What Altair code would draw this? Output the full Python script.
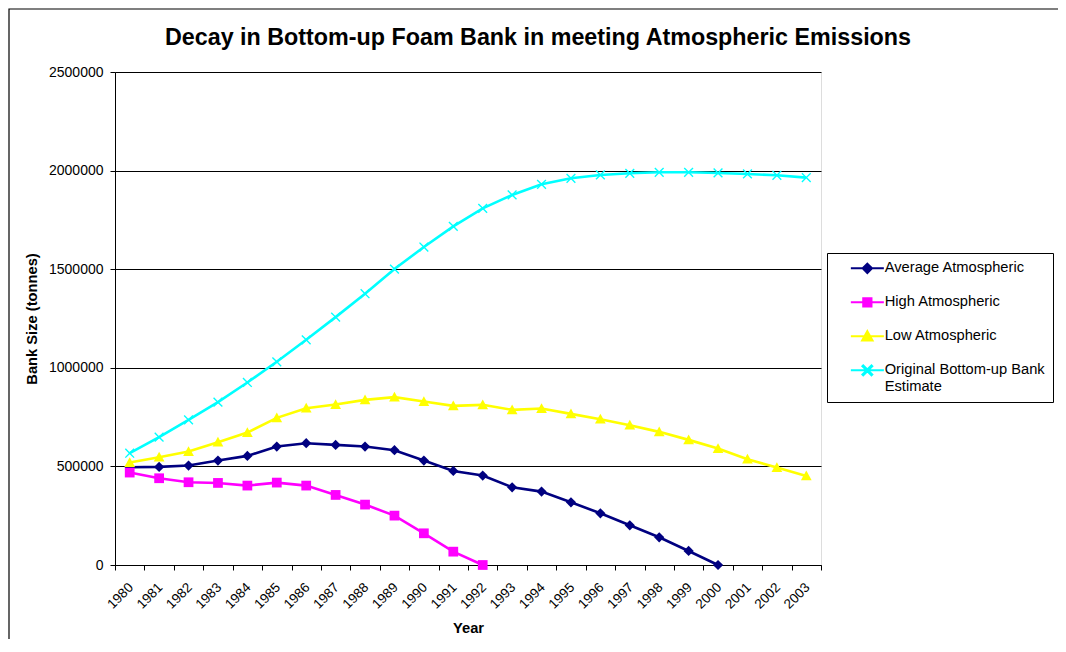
import altair as alt
import pandas as pd

years = list(range(1980, 2004))
average = [495800, 497400, 504200, 529600, 553300, 600700, 617600, 609100, 600700, 582000,
           529600, 477100, 453500, 394200, 372200, 318100, 262300, 201300, 140400, 71100,
           0, None, None, None]
high = [468700, 439900, 419600, 416200, 402700, 417900, 402700, 355300, 306300, 250400,
        160700, 67700, 0, None, None, None, None, None, None, None, None, None, None, None]
low = [519400, 546500, 575300, 622700, 671700, 746200, 795200, 813900, 837500, 851100,
       829100, 807100, 812200, 786800, 793500, 766500, 739400, 709000, 675100, 634500,
       590500, 536400, 494100, 451800]
original = [566800, 648000, 736000, 825700, 925500, 1030400, 1142100, 1257000, 1375600, 1500800,
            1612500, 1717400, 1808700, 1876400, 1930600, 1961000, 1978000, 1986400, 1991500, 1991500,
            1988100, 1983000, 1976300, 1964400]

series_names = ["Average Atmospheric", "High Atmospheric", "Low Atmospheric",
                "Original Bottom-up Bank Estimate"]
series_values = [average, high, low, original]
series_colors = ["#000080", "#FF00FF", "#FFFF00", "#00FFFF"]
y_ticks = [0, 500000, 1000000, 1500000, 2000000, 2500000]

# marker shapes for the plot
diamond = "M0,-1.05L1.05,0L0,1.05L-1.05,0Z"
square = "M-1,-1H1V1H-1Z"
triangle = "M0,-1.1L1.1,0.9H-1.1Z"
xmark = "M-1,-0.8L-0.8,-1L0,-0.2L0.8,-1L1,-0.8L0.2,0L1,0.8L0.8,1L0,0.2L-0.8,1L-1,0.8L-0.2,0Z"
plot_shapes = [diamond, square, triangle, xmark]

# legend symbols: line + marker
leg_line = "M-3,0H3"
leg_shapes = [
    leg_line + "M0,-0.85L0.85,0L0,0.85L-0.85,0Z",
    leg_line + "M-0.75,-0.75H0.75V0.75H-0.75Z",
    leg_line + "M0,-0.95L0.95,0.75H-0.95Z",
    leg_line + "M-0.9,-0.75L-0.75,-0.9L0,-0.15L0.75,-0.9L0.9,-0.75L0.15,0L0.9,0.75L0.75,0.9L0,0.15L-0.75,0.9L-0.9,0.75L-0.15,0Z",
]

rows = []
for name, vals in zip(series_names, series_values):
    for yr, v in zip(years, vals):
        if v is not None:
            rows.append({"year": yr, "value": v, "series": name})
df = pd.DataFrame(rows)

FONT = "Liberation Sans"

legend = alt.Legend(
    orient="none", legendX=712, legendY=181, title=None,
    strokeColor="black", fillColor="white", padding=8,
    labelFont=FONT, labelFontSize=14.7, labelColor="black", labelOffset=10,
    symbolSize=121, symbolStrokeWidth=2, symbolOffset=25, rowPadding=16,
    labelLimit=300,
    labelExpr="datum.label == 'Original Bottom-up Bank Estimate' ? ['Original Bottom-up Bank', 'Estimate'] : datum.label",
)

color_scale = alt.Scale(domain=series_names, range=series_colors)

x_enc = alt.X("year:O", scale=alt.Scale(type="band", paddingInner=0, paddingOuter=0),
              axis=alt.Axis(title="Year", labelAngle=-45, labelAlign="right", labelBaseline="top",
                            labelFont=FONT, labelFontSize=13.5, labelColor="black",
                            tickBand="extent", tickSize=5, tickColor="black",
                            domainColor="black", labelPadding=10, labelOffset=-4,
                            titleFont=FONT, titleFontSize=14.7, titleFontWeight="bold",
                            titleColor="black", titlePadding=10, grid=False))
y_enc = alt.Y("value:Q", scale=alt.Scale(domain=[0, 2500000], nice=False, zero=True),
              axis=alt.Axis(title="Bank Size (tonnes)", values=y_ticks, format="d",
                            labelFont=FONT, labelFontSize=14, labelColor="black",
                            tickSize=5, tickColor="black", domainColor="black",
                            labelPadding=7, grid=True, gridColor="black", gridWidth=1,
                            titleFont=FONT, titleFontSize=14.7, titleFontWeight="bold",
                            titleColor="black", titlePadding=9))

color_enc = alt.Color("series:N", scale=color_scale, legend=legend)

legend_layer = alt.Chart(df).transform_filter("false").mark_point(
    filled=True, opacity=1, strokeWidth=2
).encode(
    color=color_enc,
    stroke=alt.Stroke("series:N", scale=alt.Scale(domain=series_names, range=series_colors),
                      legend=legend),
    shape=alt.Shape("series:N", scale=alt.Scale(domain=series_names, range=leg_shapes),
                    legend=legend),
)

base = alt.Chart(df)

lines = base.mark_line(strokeWidth=2.6).encode(x=x_enc, y=y_enc, color=color_enc)

point_layers = []
for name, shp in zip(series_names, plot_shapes):
    point_layers.append(
        base.transform_filter(alt.datum.series == name)
        .mark_point(filled=True, size=95, opacity=1, shape=shp)
        .encode(x=x_enc, y=y_enc, color=color_enc)
    )

border = alt.Chart(pd.DataFrame({"a": [0]})).mark_rect(
    fillOpacity=0, stroke="black", strokeWidth=1.2
).encode(x=alt.value(-106), x2=alt.value(960), y=alt.value(-63), y2=alt.value(640))

chart = alt.layer(legend_layer, border, lines, *point_layers).properties(
    width=706, height=493,
    autosize=alt.AutoSizeParams(type="none"),
    padding={"left": 107, "top": 64, "right": 237, "bottom": 74},
    title=alt.TitleParams(
        "Decay in Bottom-up Foam Bank in meeting Atmospheric Emissions",
        font=FONT, fontSize=23.3, fontWeight="bold", color="black",
        anchor="middle", dx=70, offset=0, dy=60, baseline="alphabetic"),
).configure_view(
    fill="#C0C0C0", stroke="#808080", strokeWidth=2
).configure(background="white")

chart.save("out.html", embed_options={"renderer": "svg", "actions": False})
